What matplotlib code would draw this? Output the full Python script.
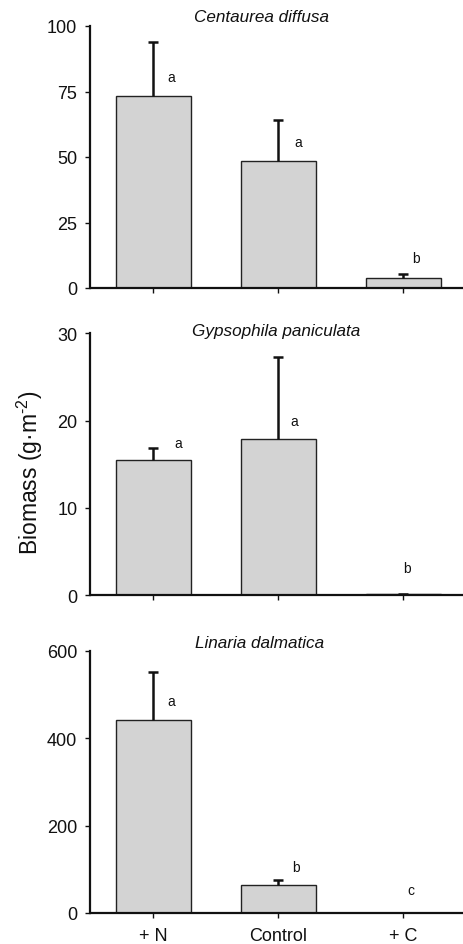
import matplotlib
matplotlib.use("Agg")
import matplotlib.pyplot as plt
import numpy as np

plt.rcParams['font.family'] = ['Liberation Sans', 'DejaVu Sans']
plt.rcParams['mathtext.fontset'] = 'custom'
plt.rcParams['mathtext.rm'] = 'Liberation Sans'
plt.rcParams['mathtext.it'] = 'Liberation Sans:italic'

treatments = ["+ N", "Control", "+ C"]
species = ["Centaurea diffusa", "Gypsophila paniculata", "Linaria dalmatica"]

centaurea_mean = [73.3, 48.6, 3.9]
centaurea_se = [20.7, 15.4, 1.4]
gypsophila_mean = [15.5, 17.9, 0.1]
gypsophila_se = [1.4, 9.35, 0.05]
linaria_mean = [442, 64.7, 0]
linaria_se = [111, 10.1, 0]

centaurea_letters = ["a", "a", "b"]
gypsophila_letters = ["a", "a", "b"]
linaria_letters = ["a", "b", "c"]

ylims = [100, 30, 600]
yticks = [[0, 25, 50, 75, 100], [0, 10, 20, 30], [0, 200, 400, 600]]

# letter placements (data coords)
letter_x = [[0.15, 1.16, 2.10], [0.20, 1.13, 2.03], [0.15, 1.14, 2.06]]
letter_y = [[80.5, 55.7, 11.5], [17.4, 20.0, 3.1], [485, 106, 52.6]]

means = [centaurea_mean, gypsophila_mean, linaria_mean]
ses = [centaurea_se, gypsophila_se, linaria_se]
letters = [centaurea_letters, gypsophila_letters, linaria_letters]

W, H = 464, 945
fig = plt.figure(figsize=(W / 100, H / 100), dpi=100)

panel_bottoms_px = [289, 596.3, 914]
panel_h_px = 262
left_px = 90.5
width_px = 375
title_pos = [(0.455, 1.036), (0.495, 1.012), (0.452, 1.034)]

x = np.arange(len(treatments))
for i in range(3):
    ax = fig.add_axes([left_px / W, 1 - panel_bottoms_px[i] / H, width_px / W, panel_h_px / H])
    ax.bar(x, means[i], width=0.6, color='#d3d3d3', edgecolor='#222222', linewidth=1.0, zorder=2)
    eb = ax.errorbar(x, means[i], yerr=[np.zeros(3), ses[i]], fmt='none', ecolor='#111111',
                     elinewidth=1.8, capsize=3.8, capthick=1.8, zorder=3)
    # hide lower caps (only upper error shown)
    eb[1][0].set_visible(False)
    ax.set_xlim(-0.5, 2.5)
    ax.set_ylim(0, ylims[i])
    ax.set_yticks(yticks[i])
    ax.set_xticks(x)
    if i == 2:
        ax.set_xticklabels(treatments)
    else:
        ax.set_xticklabels([])
    for s in ['top', 'right']:
        ax.spines[s].set_visible(False)
    for s in ['left', 'bottom']:
        ax.spines[s].set_linewidth(1.6)
        ax.spines[s].set_color('#111111')
    ax.spines['bottom'].set_zorder(4)
    ax.tick_params(axis='both', direction='out', length=3.5, width=1.0, labelsize=13,
                   colors='#111111')
    ax.tick_params(axis='y', pad=6)
    ax.tick_params(axis='x', pad=6.5)
    ax.text(title_pos[i][0], title_pos[i][1], species[i], transform=ax.transAxes,
            ha='center', va='center', fontsize=12.3, style='italic', color='#111111')
    for j in range(3):
        ax.text(letter_x[i][j], letter_y[i][j], letters[i][j], ha='center', va='center',
                fontsize=10, color='#111111')

fig.text(30 / W, 1 - 473 / H, r'Biomass (g·m$^{\text{-}2}$)', rotation=90, ha='center', va='center',
         fontsize=16.5, color='#111111')

fig.savefig('out.png', dpi=100)
